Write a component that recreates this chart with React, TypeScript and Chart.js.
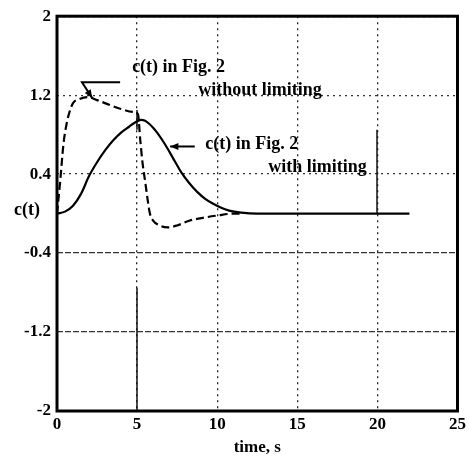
import React, { useEffect, useRef } from "react";
import { Chart, registerables } from "chart.js";
Chart.register(...registerables);

const xTicks = [0, 5, 10, 15, 20, 25];
const yTicks = [-2, -1.2, -0.4, 0.4, 1.2, 2];

// c(t) with limiting (solid)
const tWith = [0, 0.5, 1, 1.5, 2, 2.5, 3, 3.5, 4, 4.5, 4.75, 5, 5.25, 5.5, 5.75, 6, 6.25, 6.75, 7.25, 7.75, 8.25, 8.75, 9.25, 9.75, 10.25, 10.75, 11.5, 12.5, 22];
const cWith = [0, 0.02, 0.08, 0.2, 0.38, 0.52, 0.64, 0.74, 0.82, 0.88, 0.91, 0.935, 0.95, 0.94, 0.91, 0.87, 0.82, 0.7, 0.56, 0.42, 0.31, 0.22, 0.15, 0.1, 0.06, 0.03, 0.01, 0, 0];

// c(t) without limiting (dashed)
const tWithout = [0, 0.2, 0.4, 0.6, 0.8, 1.0, 1.4, 1.9, 2.5, 3.3, 4.0, 4.75, 5.05, 5.2, 5.35, 5.5, 5.65, 5.8, 6.0, 6.4, 6.9, 7.5, 8.3, 9.2, 10, 11, 11.5];
const cWithout = [0, 0.33, 0.7, 0.91, 1.04, 1.12, 1.16, 1.18, 1.15, 1.1, 1.06, 1.03, 1.01, 0.74, 0.5, 0.33, 0.15, 0, -0.07, -0.12, -0.14, -0.12, -0.07, -0.04, -0.02, 0, 0];

const noteTexts = ["c(t) in Fig. 2", "without limiting", "c(t) in Fig. 2", "with limiting"];
const noteT = [4.69, 8.81, 9.25, 13.19];
const noteC = [1.43, 1.2, 0.65, 0.42];

// arrows: polyline in data coords, last point = arrow tip
const arrow1T = [3.94, 1.56, 2.2];
const arrow1C = [1.33, 1.33, 1.17];
const arrow2T = [8.6, 7.06];
const arrow2C = [0.68, 0.68];

// solid stretches of the printed grid lines (vertical rules)
const ruleT = [5, 5, 20];
const ruleFrom = [1.05, -0.75, 0.85];
const ruleTo = [0.85, -2, 0];

const FONT = "'Liberation Serif', 'Times New Roman', serif";

const toPts = (xs: number[], ys: number[]) => xs.map((x, i) => ({ x, y: ys[i] }));

const decorPlugin = {
  id: "decor",
  beforeDatasetsDraw(chart: any) {
    const { ctx, scales } = chart;
    const xs = scales.x, ys = scales.y;
    ctx.save();
    ctx.strokeStyle = "#111";
    ctx.lineWidth = 1.5;
    ctx.setLineDash([]);
    ruleT.forEach((t, i) => {
      const x = Math.round(xs.getPixelForValue(t));
      ctx.beginPath();
      ctx.moveTo(x, ys.getPixelForValue(ruleFrom[i]));
      ctx.lineTo(x, ys.getPixelForValue(ruleTo[i]));
      ctx.stroke();
    });
    ctx.restore();
  },
  afterDraw(chart: any) {
    const { ctx, chartArea, scales } = chart;
    const xs = scales.x, ys = scales.y;
    ctx.save();
    // frame
    ctx.strokeStyle = "#000";
    ctx.lineWidth = 3;
    ctx.setLineDash([]);
    ctx.strokeRect(chartArea.left, chartArea.top, chartArea.right - chartArea.left, chartArea.bottom - chartArea.top);
    // notes
    ctx.fillStyle = "#000";
    ctx.textAlign = "left";
    ctx.textBaseline = "alphabetic";
    ctx.font = "bold 18px " + FONT;
    noteTexts.forEach((s, i) => {
      ctx.fillText(s, xs.getPixelForValue(noteT[i]), ys.getPixelForValue(noteC[i]));
    });
    // y label c(t)
    ctx.font = "bold 18px " + FONT;
    ctx.textAlign = "center";
    ctx.textBaseline = "middle";
    ctx.fillText("c(t)", chartArea.left - 30, ys.getPixelForValue(0.03));
    // arrows
    const drawArrow = (ts: number[], cs: number[]) => {
      const px = ts.map((t) => xs.getPixelForValue(t));
      const py = cs.map((c) => ys.getPixelForValue(c));
      ctx.lineWidth = 2;
      ctx.beginPath();
      ctx.moveTo(px[0], py[0]);
      for (let i = 1; i < px.length; i++) ctx.lineTo(px[i], py[i]);
      ctx.stroke();
      const n = px.length - 1;
      const ang = Math.atan2(py[n] - py[n - 1], px[n] - px[n - 1]);
      const L = 9, W = 0.4;
      ctx.beginPath();
      ctx.moveTo(px[n], py[n]);
      ctx.lineTo(px[n] - L * Math.cos(ang - W), py[n] - L * Math.sin(ang - W));
      ctx.lineTo(px[n] - L * Math.cos(ang + W), py[n] - L * Math.sin(ang + W));
      ctx.closePath();
      ctx.fill();
    };
    drawArrow(arrow1T, arrow1C);
    drawArrow(arrow2T, arrow2C);
    ctx.restore();
  },
};

export default function App() {
  const ref = useRef<HTMLCanvasElement>(null);
  useEffect(() => {
    document.body.style.margin = "0";
    const chart = new Chart(ref.current!, {
      type: "line",
      data: {
        datasets: [
          {
            label: "with limiting",
            data: toPts(tWith, cWith),
            borderColor: "#000",
            borderWidth: 2.2,
            pointRadius: 0,
            cubicInterpolationMode: "monotone",
            fill: false,
          },
          {
            label: "without limiting",
            data: toPts(tWithout, cWithout),
            borderColor: "#000",
            borderWidth: 2.2,
            borderDash: [8, 4],
            pointRadius: 0,
            cubicInterpolationMode: "monotone",
            fill: false,
          },
        ],
      },
      options: {
        animation: false,
        responsive: false,
        devicePixelRatio: 1,
        layout: { padding: { top: 6, right: 4, bottom: 0, left: 0 } },
        plugins: { legend: { display: false }, tooltip: { enabled: false } },
        scales: {
          x: {
            type: "linear",
            min: 0,
            max: 25,
            afterBuildTicks: (s: any) => { s.ticks = xTicks.map((v) => ({ value: v })); },
            afterFit: (s: any) => { s.height = 50; },
            ticks: {
              color: "#000",
              font: { family: FONT, size: 17, weight: "bold" },
              padding: 3,
              callback: (v: any) => String(v),
              maxRotation: 0,
            },
            grid: { color: "#222", lineWidth: 1.3, drawTicks: false },
            border: { display: false, dash: [2, 4] },
            title: {
              display: true,
              text: "time, s",
              color: "#000",
              font: { family: FONT, size: 17, weight: "bold" },
              padding: { top: 0, bottom: 3 },
            },
          },
          y: {
            type: "linear",
            min: -2,
            max: 2,
            afterBuildTicks: (s: any) => { s.ticks = yTicks.map((v) => ({ value: v })); },
            afterFit: (s: any) => { s.width = 57; },
            ticks: {
              color: "#000",
              font: { family: FONT, size: 17, weight: "bold" },
              padding: 6,
              callback: (v: any) => String(v),
            },
            grid: { color: "#333", lineWidth: 1.3, drawTicks: false },
            border: {
              display: false,
              dash: (c: any) => (c.tick && c.tick.value < 0 ? [6, 2] : [2, 4]),
            },
          },
        },
      },
      plugins: [decorPlugin],
    } as any);
    return () => chart.destroy();
  }, []);
  return (
    <div style={{ position: "absolute", left: 0, top: 0, width: 469, height: 461, background: "#fff" }}>
      <canvas ref={ref} width={469} height={461} />
    </div>
  );
}
